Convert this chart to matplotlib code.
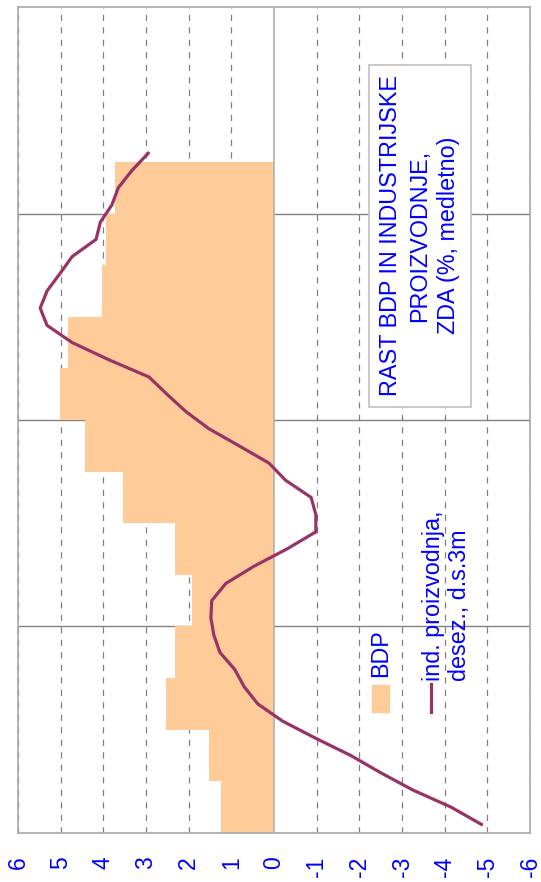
import numpy as np
import matplotlib
matplotlib.use("Agg")
import matplotlib.pyplot as plt
from matplotlib.patches import Rectangle
from matplotlib.lines import Line2D

# quarterly GDP growth (y/y, %), oldest first
bdp = [1.24, 1.53, 2.53, 2.32, 1.92, 2.32, 3.54, 4.44, 5.02, 4.84, 4.03, 3.94, 3.73]

# industrial production, seasonally adjusted, 3m moving avg (y/y, %), monthly
ind_proizvodnja = [-4.86, -4.15, -3.25, -2.5, -1.8, -0.98, -0.2, 0.38, 0.70, 0.92,
                   1.27, 1.41, 1.48, 1.46, 1.13, 0.47, -0.3, -0.98, -0.98, -0.87,
                   -0.27, 0.12, 0.82, 1.53, 2.07, 2.51, 2.93, 3.87, 4.73, 5.32,
                   5.48, 5.32, 5.02, 4.73, 4.17, 4.07, 3.80, 3.65, 3.33, 2.95]

value_ticks = list(range(6, -7, -1))
n_quarters = 16  # four years on the time axis

TITLE = "RAST BDP IN INDUSTRIJSKE\nPROIZVODNJE,\nZDA (%, medletno)"
BLUE = "#0000FF"
BAR_COLOR = "#FFCC99"
LINE_COLOR = "#993366"


def main():
    plt.rcParams['font.family'] = ['Liberation Sans', 'DejaVu Sans']
    plt.rcParams['axes.unicode_minus'] = False

    fig = plt.figure(figsize=(5.41, 8.82), dpi=100)
    ax = fig.add_axes([0.0333, 0.0556, 0.9464, 0.9364])

    # the chart is drawn turned on its side: values run along x, time runs up
    q = np.arange(len(bdp)) + 0.5
    ax.barh(q, bdp, height=1.0, color=BAR_COLOR, zorder=2)

    m = (np.arange(len(ind_proizvodnja)) + 0.5) / 3.0
    ax.plot(ind_proizvodnja, m, color=LINE_COLOR, lw=2.3, zorder=4,
            solid_joinstyle='round')

    # gridlines
    for v in value_ticks:
        if v != 0:
            ax.axvline(v, color='#808080', lw=0.9, ls=(0, (5, 5)), zorder=1)
    ax.axvline(0, color='#B0B0B0', lw=1.2, zorder=3)
    for yr in range(4, n_quarters, 4):
        ax.axhline(yr, color='#808080', lw=1.0, zorder=1)

    ax.set_xlim(6, -6)
    ax.set_ylim(0, n_quarters)
    ax.set_xticks(value_ticks)
    ax.set_xticklabels([str(v) for v in value_ticks], rotation=90,
                       color=BLUE, fontsize=16.5)
    ax.tick_params(axis='x', length=0, pad=17)
    ax.set_yticks([])
    for s in ax.spines.values():
        s.set_color('#A8A8A8')
        s.set_linewidth(1.2)

    # title box
    ax.text(-3.42, 11.57, TITLE, rotation=90, ha='center', va='center',
            multialignment='center', color=BLUE, fontsize=16.8,
            linespacing=1.33, zorder=6,
            bbox=dict(boxstyle='square,pad=0.45', fc='white', ec='#C0C0C0', lw=1.2))

    # legend, drawn by hand so it can stand on its side
    ax.add_patch(Rectangle((-2.29, 2.34), -0.41, 0.52, color=BAR_COLOR, zorder=5))
    ax.text(-2.51, 3.02, "BDP", rotation=90, ha='center', va='bottom',
            color=BLUE, fontsize=16.8, zorder=6)
    ax.add_line(Line2D([-3.69, -3.69], [2.34, 2.88], color=LINE_COLOR, lw=2.3, zorder=5))
    ax.text(-4.04, 2.94, "ind. proizvodnja,\ndesez., d.s.3m", rotation=90,
            ha='center', va='bottom', multialignment='left', color=BLUE,
            fontsize=16.8, zorder=6)

    fig.savefig('out.png', dpi=100)


if __name__ == "__main__":
    main()
